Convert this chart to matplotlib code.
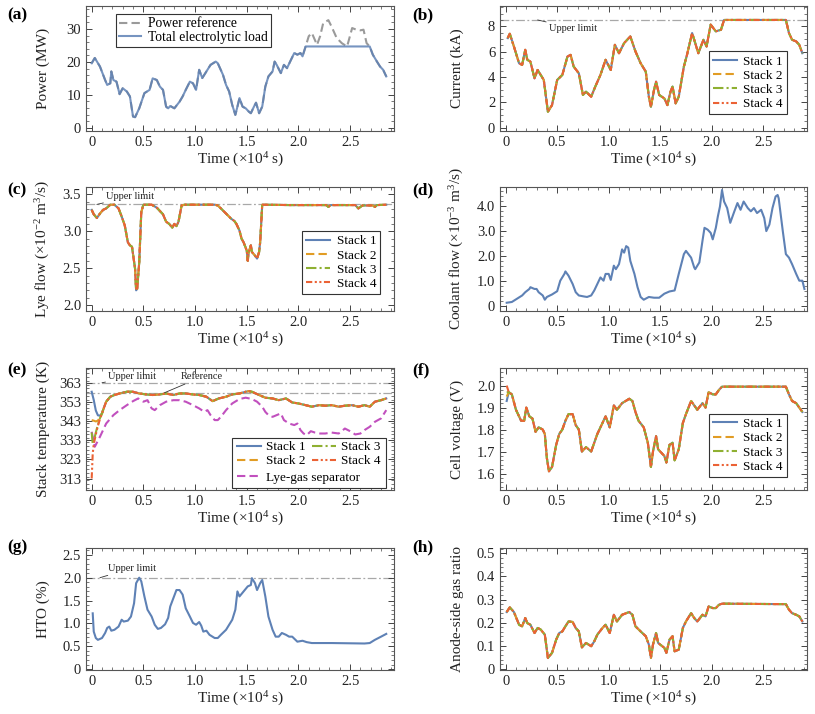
import numpy as np
import matplotlib
matplotlib.use("Agg")
import matplotlib.pyplot as plt
from matplotlib.ticker import MultipleLocator
from matplotlib.lines import Line2D
from matplotlib.patches import Rectangle
from matplotlib.transforms import Bbox

# ---------------- data ----------------
x_ticks = [0, 0.5, 1.0, 1.5, 2.0, 2.5]
x_tick_labels = ["0", "0.5", "1.0", "1.5", "2.0", "2.5"]

# (a) power (MW), time in 1e4 s
t_load = [0.00,0.03,0.08,0.13,0.15,0.18,0.19,0.21,0.24,0.27,0.30,0.34,0.37,0.40,0.42,0.46,0.51,0.56,0.59,0.63,
          0.66,0.69,0.72,0.74,0.76,0.80,0.85,0.88,0.91,0.95,0.98,1.01,1.04,1.07,1.11,1.15,1.20,1.22,1.27,1.30,
          1.33,1.36,1.39,1.41,1.43,1.46,1.49,1.52,1.54,1.57,1.59,1.62,1.65,1.68,1.71,1.75,1.77,1.79,1.83,1.86,
          1.89,1.92,1.96,1.99,2.02,2.04,2.07,2.69,2.72,2.76,2.79,2.82,2.85]
p_load = [19.6,21.2,18.6,14.5,13.0,13.5,17.1,14.5,14.0,10.2,12.0,11.0,9.5,3.4,3.2,5.9,10.5,11.5,15.0,14.5,
          12.5,11.5,6.4,5.9,6.6,5.9,7.9,9.5,11.5,14.0,13.5,11.5,17.6,15.1,17.1,19.1,20.1,19.6,16.1,13.0,
          11.0,6.9,3.9,6.4,9.0,6.4,5.9,4.9,4.4,6.4,7.6,4.4,6.4,12.5,15.6,17.1,20.1,19.1,16.6,19.1,
          18.1,20.1,22.7,22.2,22.7,21.7,24.7,24.7,22.2,20.1,18.6,17.6,15.6]
t_ref_tail = [2.10,2.13,2.18,2.21,2.24,2.29,2.32,2.37,2.42,2.47,2.48,2.52,2.56,2.60,2.63,2.66]
p_ref_tail = [27.8,28.8,25.2,27.8,31.8,32.7,30.8,27.3,25.7,24.7,25.7,30.3,29.8,29.6,29.8,25.7]

# (b) current (kA)
t_cur = [0.02,0.04,0.08,0.13,0.16,0.19,0.21,0.24,0.28,0.31,0.34,0.37,0.41,0.45,0.50,0.55,0.60,0.63,0.66,0.71,
         0.75,0.78,0.83,0.87,0.92,0.97,1.02,1.06,1.10,1.15,1.21,1.26,1.31,1.36,1.39,1.41,1.44,1.46,1.49,1.54,
         1.57,1.60,1.62,1.65,1.68,1.73,1.76,1.81,1.84,1.87,1.92,1.95,1.99,2.04,2.09,2.12,2.72,2.75,2.78,2.82,
         2.85,2.88]
i_cur = [7.07,7.41,6.41,5.09,4.96,6.15,5.36,5.22,3.90,4.56,4.17,3.77,1.27,1.79,3.77,4.17,5.62,5.75,4.83,4.30,
         2.59,2.85,2.45,3.25,4.17,5.36,4.56,6.54,5.88,6.68,7.20,6.02,5.09,4.43,2.45,1.66,2.98,3.64,2.59,2.32,
         1.79,2.85,3.25,1.93,2.45,4.83,5.75,7.47,6.68,5.88,6.94,6.41,8.13,7.60,7.73,8.50,8.50,7.47,6.94,6.81,
         6.54,5.88]
current_limit = 8.5

# (c) lye flow (1e-2 m3/s)
t_lye = [0.00,0.02,0.05,0.08,0.11,0.14,0.18,0.22,0.26,0.29,0.32,0.35,0.37,0.39,0.42,0.43,0.44,0.46,0.48,0.50,
         0.58,0.63,0.69,0.72,0.75,0.78,0.80,0.82,0.84,0.87,0.90,1.19,1.22,1.25,1.30,1.35,1.38,1.40,1.43,1.45,
         1.47,1.50,1.51,1.52,1.54,1.55,1.58,1.60,1.62,1.63,1.65,1.94,2.27,2.29,2.31,2.55,2.58,2.62,2.72,2.74,
         2.76,2.85]
q_lye = [3.29,3.23,3.18,3.24,3.29,3.31,3.36,3.36,3.31,3.20,3.08,2.85,2.81,2.79,2.49,2.20,2.22,2.58,3.26,3.36,
         3.36,3.32,3.23,3.13,3.10,3.05,3.10,3.07,3.13,3.35,3.36,3.36,3.35,3.31,3.24,3.17,3.14,3.10,3.01,2.90,
         2.85,2.74,2.60,2.72,2.81,2.72,2.67,2.63,2.72,2.85,3.36,3.355,3.355,3.33,3.355,3.355,3.31,3.35,3.35,3.33,
         3.355,3.36]
lye_limit = 3.364

# (d) coolant flow (1e-3 m3/s)
t_cool = [0.01,0.06,0.11,0.16,0.19,0.23,0.24,0.28,0.30,0.32,0.36,0.38,0.40,0.45,0.50,0.53,0.57,0.58,0.61,0.65,
          0.68,0.71,0.76,0.79,0.83,0.86,0.89,0.92,0.95,0.97,1.00,1.02,1.05,1.07,1.10,1.13,1.15,1.17,1.19,1.21,
          1.25,1.28,1.31,1.34,1.39,1.44,1.49,1.54,1.59,1.64,1.68,1.73,1.75,1.80,1.83,1.84,1.88,1.91,1.93,1.96,
          1.99,2.01,2.04,2.06,2.08,2.10,2.12,2.15,2.18,2.22,2.25,2.28,2.31,2.35,2.38,2.41,2.44,2.48,2.51,2.53,
          2.56,2.59,2.62,2.64,2.65,2.69,2.72,2.75,2.78,2.82,2.85,2.88,2.90]
q_cool = [0.13,0.16,0.29,0.42,0.55,0.68,0.75,0.68,0.68,0.55,0.42,0.25,0.36,0.46,0.59,1.01,1.28,1.38,1.21,0.88,
          0.55,0.42,0.38,0.36,0.42,0.62,0.88,1.14,1.01,1.28,1.28,1.04,1.61,1.47,1.67,2.26,2.13,2.39,2.33,1.80,
          1.28,0.75,0.36,0.25,0.36,0.33,0.33,0.49,0.58,0.62,1.28,2.07,2.20,1.93,1.54,1.47,1.74,2.59,3.12,3.05,
          2.92,2.66,3.12,3.58,3.97,4.63,4.17,3.91,3.32,3.78,4.11,3.84,4.17,3.91,3.78,3.91,3.71,3.84,3.51,2.99,
          3.25,3.91,4.37,4.43,4.30,2.99,2.07,1.93,1.67,1.28,1.01,1.01,0.68]

# (e) stack temperature (K)
t_temp = [0.11,0.14,0.18,0.22,0.27,0.34,0.40,0.46,0.53,0.59,0.66,0.72,0.79,0.85,0.91,0.98,1.04,1.11,1.17,1.23,
          1.30,1.36,1.43,1.49,1.52,1.55,1.62,1.68,1.75,1.81,1.88,1.94,2.00,2.07,2.13,2.20,2.26,2.32,2.39,2.45,
          2.52,2.58,2.64,2.69,2.74,2.80,2.85]
k_temp = [348.7,353.1,355.7,356.6,357.4,358.3,358.3,357.4,356.9,356.6,356.9,357.4,356.6,357.4,357.4,356.9,356.6,355.7,353.4,354.8,
          355.7,356.9,357.4,358.3,358.6,358.3,356.6,355.2,354.8,353.9,354.8,352.7,352.2,351.3,350.5,351.3,351.0,351.3,350.5,351.0,
          351.3,350.5,351.3,350.5,353.1,353.9,354.8]
t_start_s1 = [0.00,0.02,0.04,0.06,0.08,0.10]
k_start_s1 = [358.3,354.0,348.5,346.0,345.8,347.0]
t_start_s2 = [0.00,0.02,0.04,0.06,0.08,0.10]
k_start_s2 = [343.5,343.2,342.8,343.2,345.0,347.0]
t_start_s3 = [0.00,0.01,0.02,0.04,0.06,0.08,0.10]
k_start_s3 = [337.0,331.0,332.5,337.0,341.0,344.5,347.0]
t_start_s4 = [0.00,0.01,0.02,0.04,0.06,0.08,0.10]
k_start_s4 = [313.0,326.0,331.0,336.0,340.5,344.0,347.0]
t_sep = [0.00,0.03,0.08,0.14,0.21,0.27,0.34,0.40,0.45,0.50,0.54,0.58,0.61,0.66,0.72,0.79,0.85,0.91,0.98,1.04,
         1.09,1.12,1.15,1.19,1.22,1.25,1.30,1.36,1.43,1.49,1.55,1.60,1.65,1.68,1.71,1.75,1.79,1.83,1.86,1.91,
         1.96,1.99,2.02,2.05,2.08,2.12,2.16,2.21,2.26,2.32,2.39,2.45,2.50,2.55,2.60,2.64,2.69,2.74,2.80,2.85]
k_sep = [337.4,329.6,334.8,341.7,346.1,348.7,351.3,353.4,354.8,353.1,353.9,349.6,348.7,351.3,353.1,353.9,353.9,353.1,351.3,349.6,
         347.8,348.7,346.1,343.5,343.5,345.2,348.7,352.2,354.5,355.2,354.5,353.1,350.5,347.8,346.1,345.2,346.1,347.0,343.5,341.7,
         340.9,341.7,338.3,336.5,335.6,337.7,337.0,336.5,336.5,337.0,336.5,339.1,337.7,336.0,336.5,338.3,340.0,342.6,344.4,348.7]
temp_limit = 363
temp_reference = 357.8

# (f) cell voltage (V)
t_volt = [0.03,0.06,0.10,0.15,0.18,0.20,0.23,0.26,0.29,0.32,0.36,0.38,0.40,0.42,0.45,0.49,0.52,0.55,0.58,0.61,
          0.65,0.68,0.71,0.74,0.78,0.83,0.86,0.89,0.94,0.97,1.01,1.05,1.08,1.13,1.20,1.23,1.26,1.29,1.34,1.38,
          1.41,1.43,1.46,1.48,1.50,1.54,1.56,1.59,1.62,1.64,1.68,1.72,1.75,1.80,1.83,1.86,1.91,1.94,1.97,2.01,
          2.04,2.07,2.10,2.72,2.75,2.78,2.82,2.85,2.88]
v_volt = [1.97,1.96,1.89,1.84,1.84,1.90,1.86,1.85,1.79,1.81,1.80,1.78,1.67,1.61,1.63,1.73,1.78,1.80,1.84,1.87,
          1.87,1.82,1.80,1.70,1.72,1.70,1.74,1.78,1.83,1.86,1.81,1.91,1.89,1.92,1.94,1.93,1.88,1.84,1.81,1.74,
          1.63,1.70,1.77,1.71,1.70,1.68,1.65,1.73,1.74,1.66,1.71,1.83,1.87,1.93,1.91,1.89,1.92,1.90,1.97,1.96,
          1.96,1.98,1.995,1.995,1.96,1.93,1.92,1.90,1.88]
v_start = [1.93, 1.95, 1.97, 2.00]   # stack 1..4 at t = 0.01

# (g) HTO (%)
t_hto = [0.01,0.02,0.04,0.06,0.10,0.13,0.15,0.17,0.19,0.22,0.26,0.29,0.31,0.35,0.38,0.41,0.43,0.46,0.48,0.51,
         0.54,0.58,0.61,0.64,0.67,0.71,0.74,0.76,0.79,0.82,0.85,0.88,0.91,0.95,0.98,1.01,1.04,1.06,1.08,1.11,
         1.14,1.19,1.22,1.25,1.30,1.33,1.36,1.39,1.41,1.43,1.47,1.51,1.54,1.55,1.58,1.60,1.63,1.65,1.68,1.71,
         1.75,1.78,1.81,1.84,1.88,1.91,1.94,1.99,2.04,2.08,2.13,2.32,2.64,2.69,2.74,2.80,2.85]
h_hto = [1.22,0.82,0.68,0.64,0.68,0.79,0.90,0.93,0.84,0.86,0.93,1.08,1.04,1.06,1.15,1.44,1.88,2.00,1.92,1.59,
         1.30,1.15,0.97,0.88,0.90,0.98,1.12,1.37,1.55,1.73,1.73,1.63,1.33,1.15,1.01,0.97,1.03,0.95,0.82,0.84,
         0.75,0.68,0.68,0.75,0.86,0.97,1.08,1.30,1.70,1.59,1.70,1.81,1.84,1.99,1.88,1.73,1.88,1.95,1.59,1.15,
         0.86,0.71,0.71,0.79,0.75,0.71,0.71,0.60,0.62,0.59,0.57,0.57,0.56,0.57,0.64,0.71,0.77]
hto_limit = 2.0

# (h) anode-side gas ratio
t_gas = [0.01,0.04,0.08,0.13,0.16,0.19,0.21,0.24,0.28,0.31,0.34,0.38,0.41,0.45,0.49,0.52,0.55,0.58,0.61,0.65,
         0.68,0.71,0.74,0.78,0.83,0.86,0.89,0.94,0.97,1.01,1.05,1.08,1.13,1.20,1.23,1.26,1.31,1.36,1.39,1.41,
         1.43,1.46,1.48,1.50,1.54,1.56,1.59,1.62,1.64,1.68,1.72,1.75,1.80,1.83,1.86,1.91,1.94,1.97,2.01,2.04,
         2.07,2.10,2.72,2.75,2.78,2.82,2.85,2.88]
r_gas = [0.246,0.266,0.246,0.191,0.184,0.220,0.198,0.191,0.155,0.177,0.170,0.148,0.047,0.069,0.126,0.155,0.162,0.184,0.205,0.203,
         0.177,0.162,0.093,0.112,0.098,0.119,0.148,0.177,0.191,0.155,0.234,0.205,0.234,0.246,0.234,0.184,0.162,0.141,0.105,0.047,
         0.105,0.155,0.112,0.105,0.091,0.069,0.126,0.141,0.076,0.083,0.177,0.205,0.241,0.220,0.205,0.234,0.227,0.270,0.263,0.263,
         0.277,0.282,0.280,0.256,0.241,0.234,0.227,0.205]

stack_names = ["Stack 1", "Stack 2", "Stack 3", "Stack 4"]

# ---------------- style ----------------
plt.rcParams.update({
    "font.family": "serif",
    "font.serif": ["Liberation Serif", "DejaVu Serif"],
    "mathtext.fontset": "custom",
    "mathtext.rm": "Liberation Serif",
    "mathtext.it": "Liberation Serif:italic",
    "mathtext.bf": "Liberation Serif:bold",
    "font.size": 10,
})

C_BLUE = "#5E81B5"
C_ORANGE = "#E19C24"
C_GREEN = "#8FB032"
C_RED = "#EB6235"
C_PURPLE = "#C150BE"
C_GRAY = "#9A9A9A"
C_LIMIT = "#A8A8A8"

stack_styles = [
    dict(color=C_BLUE, linestyle="-"),
    dict(color=C_ORANGE, dashes=(4, 2)),
    dict(color=C_GREEN, dashes=(5, 1.5, 1, 1.5)),
    dict(color=C_RED, dashes=(3, 1.2, 1, 1.2, 1, 1.2)),
]
LW = 1.5
LEG_FS = 9.5

fig = plt.figure(figsize=(8.15, 7.14), dpi=100)
W, H = 815.0, 714.0
cols = [(86, 394), (500, 807)]
rows = [(6, 131), (187, 311), (368, 490), (548, 670)]


def make_ax(r, c):
    x0, x1 = cols[c]
    y0, y1 = rows[r]
    return fig.add_axes([x0 / W, 1 - y1 / H, (x1 - x0) / W, (y1 - y0) / H])


def style(ax, ylim, yticks, ylabels, yminor, ylabel, r, c):
    ax.set_xlim(-0.055, 2.925)
    ax.set_xticks(x_ticks, x_tick_labels)
    ax.xaxis.set_minor_locator(MultipleLocator(0.1))
    ax.set_ylim(*ylim)
    ax.set_yticks(yticks, ylabels)
    ax.yaxis.set_minor_locator(MultipleLocator(yminor))
    ax.tick_params(which="both", direction="in", top=True, right=True, colors="#444",
                   labelcolor="#222", labelsize=10.5)
    ax.tick_params(which="major", length=4, width=0.7)
    ax.tick_params(which="minor", length=2, width=0.5)
    for s in ax.spines.values():
        s.set_color("#555")
        s.set_linewidth(0.8)
    wpx = cols[c][1] - cols[c][0]
    hpx = rows[r][1] - rows[r][0]
    ax.set_xlabel("Time (×10$^{4}$ s)", fontsize=11, color="#222", va="center")
    ax.xaxis.set_label_coords(0.5, -29.0 / hpx)
    ax.set_ylabel(ylabel, fontsize=11, color="#222", va="center")
    ax.yaxis.set_label_coords(-43.0 / wpx, 0.5)


def limit_line(ax, y):
    ax.axhline(y, color=C_LIMIT, lw=0.9, dashes=(7, 2, 1.5, 2), zorder=1)


def note(ax, text, xy, xytext):
    ax.annotate(text, xy=xy, xytext=xytext, fontsize=7.5, color="#222", va="center", ha="left",
                arrowprops=dict(arrowstyle="-", color="#333", lw=0.6, shrinkA=0, shrinkB=0))


def stack_legend(ax, anchor):
    handles = [Line2D([], [], lw=LW, **st) for st in stack_styles]
    leg = ax.legend(handles, stack_names, loc="lower right", bbox_to_anchor=anchor,
                    borderaxespad=0, fontsize=LEG_FS, handlelength=1.8, handletextpad=0.5,
                    labelspacing=0.15, borderpad=0.3, frameon=True, fancybox=False,
                    edgecolor="#333", framealpha=1)
    leg.get_frame().set_linewidth(0.8)
    return leg


def panel_label(txt, x, y):
    fig.text(x / W, 1 - y / H, txt, fontsize=12.5, fontweight="bold", ha="left", va="center")


# (a)
ax = make_ax(0, 0)
tl = np.array(t_load)
pl = np.array(p_load)
before = tl <= 2.07
after = tl >= 2.69
t_ref = np.concatenate([tl[before], t_ref_tail, tl[after]])
p_ref = np.concatenate([pl[before], p_ref_tail, pl[after]])
ax.plot(t_ref, p_ref, color=C_GRAY, lw=LW, dashes=(4, 2), label="Power reference")
ax.plot(tl, pl, color=C_BLUE, lw=LW, alpha=0.85, label="Total electrolytic load")
style(ax, (-1, 37), [0, 10, 20, 30], ["0", "10", "20", "30"], 2, "Power (MW)", 0, 0)
leg = ax.legend(loc="upper left", bbox_to_anchor=(0.097, 0.936), borderaxespad=0, fontsize=9.8,
                handlelength=1.6, handletextpad=0.5, labelspacing=0.05, borderpad=0.25,
                fancybox=False, edgecolor="#333", framealpha=1)
leg.get_frame().set_linewidth(0.8)
panel_label("(a)", 7, 15)

# (b)
ax = make_ax(0, 1)
for st in stack_styles:
    ax.plot(t_cur, i_cur, lw=LW, **st)
limit_line(ax, current_limit)
note(ax, "Upper limit", (0.31, current_limit), (0.42, 7.86))
style(ax, (-0.25, 9.6), [0, 2, 4, 6, 8], ["0", "2", "4", "6", "8"], 0.5, "Current (kA)", 0, 1)
stack_legend(ax, (0.934, 0.134))
panel_label("(b)", 412, 15)

# (c)
ax = make_ax(1, 0)
for st in stack_styles:
    ax.plot(t_lye, q_lye, lw=LW, **st)
limit_line(ax, lye_limit)
note(ax, "Upper limit", (0.05, lye_limit), (0.14, 3.468))
style(ax, (1.92, 3.6), [2.0, 2.5, 3.0, 3.5], ["2.0", "2.5", "3.0", "3.5"], 0.1,
      "Lye flow (×10$^{-2}$ m$^{3}$/s)", 1, 0)
stack_legend(ax, (0.955, 0.137))
panel_label("(c)", 7, 190)

# (d)
ax = make_ax(1, 1)
ax.plot(t_cool, q_cool, color=C_BLUE, lw=LW)
style(ax, (-0.2, 4.75), [0, 1, 2, 3, 4], ["0", "1.0", "2.0", "3.0", "4.0"], 0.2,
      "Coolant flow (×10$^{-3}$ m$^{3}$/s)", 1, 1)
panel_label("(d)", 412, 190)

# (e)
ax_e = make_ax(2, 0)
ax = ax_e
limit_line(ax, temp_limit)
limit_line(ax, temp_reference)
note(ax, "Upper limit", (0.10, temp_limit), (0.16, 366.1))
note(ax, "Reference", (0.705, temp_reference), (0.865, 366.1))
starts = [(t_start_s1, k_start_s1), (t_start_s2, k_start_s2), (t_start_s3, k_start_s3), (t_start_s4, k_start_s4)]
ax.plot(t_sep, k_sep, color=C_PURPLE, lw=LW, dashes=(4, 2))
for (ts, ks), st in zip(starts, stack_styles):
    ax.plot(np.concatenate([ts, t_temp]), np.concatenate([ks, k_temp]), lw=LW, **st)
style(ax, (307, 370.7), [313, 323, 333, 343, 353, 363], ["313", "323", "333", "343", "353", "363"], 2,
      "Stack temperature (K)", 2, 0)
hs = [Line2D([], [], lw=LW, **st) for st in stack_styles]
leg1 = ax.legend(hs, stack_names, ncol=2, loc="upper left", bbox_to_anchor=(0.482, 0.422),
                 borderaxespad=0, fontsize=LEG_FS, handlelength=1.8, handletextpad=0.4, labelspacing=0.12,
                 columnspacing=0.5, borderpad=0.2, frameon=False)
leg1.set_zorder(6)
ax.add_artist(leg1)
leg2 = ax.legend([Line2D([], [], color=C_PURPLE, lw=LW, dashes=(4, 2))], ["Lye-gas separator"],
                 loc="upper left", bbox_to_anchor=(0.482, 0.172), borderaxespad=0, fontsize=LEG_FS,
                 handlelength=1.8, handletextpad=0.4, borderpad=0.2, frameon=False)
leg2.set_zorder(6)
fig.canvas.draw()
bb = Bbox.union([leg1.get_window_extent(), leg2.get_window_extent()])
inv = ax.transAxes.inverted()
(bx0, by0), (bx1, by1) = inv.transform([[bb.x0, bb.y0], [bb.x1, bb.y1]])
pad = 0.008
ax.add_patch(Rectangle((bx0 - pad, by0 - pad), (bx1 - bx0) + 2 * pad, (by1 - by0) + 2 * pad,
                       transform=ax.transAxes, facecolor="white", edgecolor="#333", lw=0.8, zorder=5))
panel_label("(e)", 7, 370)

# (f)
ax = make_ax(2, 1)
for v0, st in zip(v_start, stack_styles):
    ax.plot(np.concatenate([[0.01], t_volt]), np.concatenate([[v0], v_volt]), lw=LW, **st)
style(ax, (1.525, 2.08), [1.6, 1.7, 1.8, 1.9, 2.0], ["1.6", "1.7", "1.8", "1.9", "2.0"], 0.02,
      "Cell voltage (V)", 2, 1)
stack_legend(ax, (0.934, 0.109))
panel_label("(f)", 412, 370)

# (g)
ax = make_ax(3, 0)
limit_line(ax, hto_limit)
note(ax, "Upper limit", (0.08, hto_limit), (0.16, 2.21))
ax.plot(t_hto, h_hto, color=C_BLUE, lw=LW)
style(ax, (-0.02, 2.65), [0, 0.5, 1.0, 1.5, 2.0, 2.5], ["0", "0.5", "1.0", "1.5", "2.0", "2.5"], 0.1,
      "HTO (%)", 3, 0)
panel_label("(g)", 7, 547)

# (h)
ax = make_ax(3, 1)
for st in stack_styles:
    ax.plot(t_gas, r_gas, lw=LW, **st)
style(ax, (-0.005, 0.523), [0, 0.1, 0.2, 0.3, 0.4, 0.5], ["0", "0.1", "0.2", "0.3", "0.4", "0.5"], 0.02,
      "Anode-side gas ratio", 3, 1)
panel_label("(h)", 412, 547)

fig.savefig("out.png", dpi=100)
